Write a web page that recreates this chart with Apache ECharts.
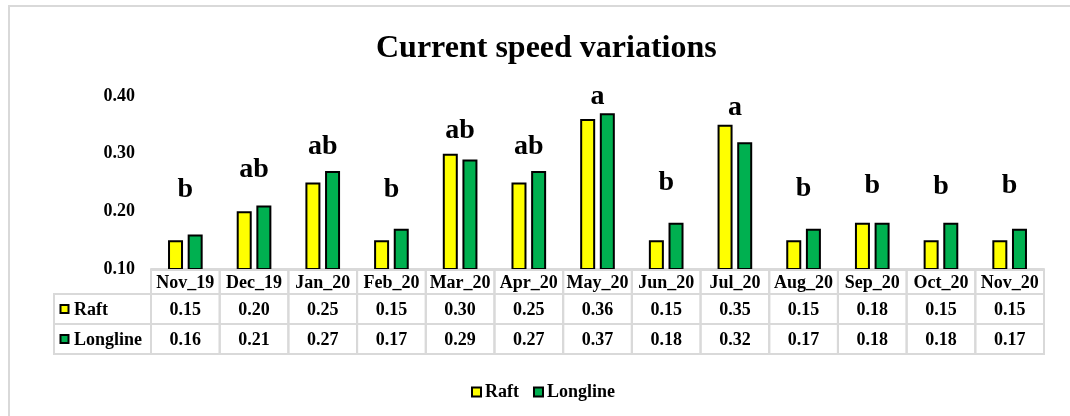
<!DOCTYPE html>
<html>
<head>
    <meta charset="utf-8">
    <title>Current speed variations</title>
    <script src="https://cdn.jsdelivr.net/npm/echarts@6/dist/echarts.min.js"></script>
    <style>
        html, body { margin: 0; padding: 0; background: #fff; }
        #chart { width: 1070px; height: 416px; }
    </style>
</head>
<body>
<div id="chart"></div>
<script type="text/javascript">
    // data
    var months = ['Nov_19', 'Dec_19', 'Jan_20', 'Feb_20', 'Mar_20', 'Apr_20', 'May_20',
        'Jun_20', 'Jul_20', 'Aug_20', 'Sep_20', 'Oct_20', 'Nov_20'];
    var raft = [0.15, 0.20, 0.25, 0.15, 0.30, 0.25, 0.36, 0.15, 0.35, 0.15, 0.18, 0.15, 0.15];
    var longline = [0.16, 0.21, 0.27, 0.17, 0.29, 0.27, 0.37, 0.18, 0.32, 0.17, 0.18, 0.18, 0.17];
    // significance letters and the height (in axis units) where they sit
    var letters = ['b', 'ab', 'ab', 'b', 'ab', 'ab', 'a', 'b', 'a', 'b', 'b', 'b', 'b'];
    var letterPos = [0.237, 0.272, 0.312, 0.237, 0.339, 0.312, 0.398, 0.249, 0.379, 0.240, 0.244, 0.242, 0.244];

    var serif = '"Times New Roman", "Liberation Serif", serif';
    var yellow = '#FFFF00';
    var green = '#00B050';
    var lineGray = '#d9d9d9';

    var chart = echarts.init(document.getElementById('chart'));

    chart.setOption({
        animation: false,
        title: {
            text: 'Current speed variations',
            left: 371,
            top: 28,
            textStyle: { fontFamily: serif, fontWeight: 'bold', fontSize: 32, color: '#000' }
        },
        legend: {
            data: ['Raft', 'Longline'],
            left: 466,
            top: 378,
            icon: 'rect',
            itemWidth: 9,
            itemHeight: 9,
            itemGap: 14,
            textStyle: { fontFamily: serif, fontWeight: 'bold', fontSize: 18, color: '#000', padding: [0, 0, 0, -1] }
        },
        grid: { left: 151, right: 26, top: 96, bottom: 147 },
        xAxis: {
            type: 'category',
            data: months,
            axisLine: { lineStyle: { color: lineGray, width: 2 } },
            axisTick: { show: false },
            axisLabel: { show: false }
        },
        yAxis: {
            type: 'value',
            min: 0.1,
            max: 0.4,
            interval: 0.1,
            axisLine: { show: false },
            axisTick: { show: false },
            splitLine: { show: false },
            axisLabel: {
                margin: 16,
                formatter: function (v) { return v.toFixed(2); },
                fontFamily: serif, fontWeight: 'bold', fontSize: 18, color: '#000'
            }
        },
        series: [
            {
                name: 'Raft',
                type: 'bar',
                data: raft,
                barWidth: 15,
                barGap: '31%',
                itemStyle: { color: yellow, borderColor: '#000', borderWidth: 2 }
            },
            {
                name: 'Longline',
                type: 'bar',
                data: longline,
                barWidth: 15,
                itemStyle: { color: green, borderColor: '#000', borderWidth: 2 }
            },
            {
                name: 'letters',
                type: 'scatter',
                data: letterPos,
                symbolSize: 1,
                itemStyle: { color: 'rgba(0,0,0,0)', opacity: 1 },
                z: 5,
                label: {
                    show: true,
                    position: 'inside',
                    opacity: 1,
                    formatter: function (p) { return letters[p.dataIndex]; },
                    fontFamily: serif, fontWeight: 'bold', fontSize: 28, color: '#000'
                }
            }
        ]
    });

    // data table under the plot, built from the axis positions
    function drawTable() {
        var els = [];
        var c0 = chart.convertToPixel({ xAxisIndex: 0 }, 0);
        var c1 = chart.convertToPixel({ xAxisIndex: 0 }, 1);
        var w = c1 - c0;
        var left = c0 - w / 2;
        var top = chart.convertToPixel({ yAxisIndex: 0 }, 0.1) + 1;
        var headH = 24, rowH = 30;
        var font = 'bold 18px ' + serif;
        var rows = [
            { name: 'Raft', color: yellow, values: raft },
            { name: 'Longline', color: green, values: longline }
        ];

        // outer frame of the chart area
        els.push({
            type: 'rect', silent: true, z: 0,
            shape: { x: 9, y: 6, width: 1100, height: 430 },
            style: { fill: 'none', stroke: lineGray, lineWidth: 2 }
        });

        months.forEach(function (m, i) {
            var cx = chart.convertToPixel({ xAxisIndex: 0 }, i);
            els.push({
                type: 'rect', silent: true, z: 10,
                shape: { x: cx - w / 2, y: top, width: w, height: headH },
                style: { fill: 'none', stroke: lineGray, lineWidth: 2 }
            });
            els.push({
                type: 'text', silent: true, z: 11,
                style: { text: m, x: cx, y: top + headH / 2 + 1, textAlign: 'center', textVerticalAlign: 'middle', verticalAlign: 'middle', font: font, fill: '#000' }
            });
            rows.forEach(function (r, k) {
                var y = top + headH + k * rowH;
                els.push({
                    type: 'rect', silent: true, z: 10,
                    shape: { x: cx - w / 2, y: y, width: w, height: rowH },
                    style: { fill: 'none', stroke: lineGray, lineWidth: 2 }
                });
                els.push({
                    type: 'text', silent: true, z: 11,
                    style: { text: r.values[i].toFixed(2), x: cx, y: y + rowH / 2 + 1, textAlign: 'center', textVerticalAlign: 'middle', verticalAlign: 'middle', font: font, fill: '#000' }
                });
            });
        });

        rows.forEach(function (r, k) {
            var y = top + headH + k * rowH;
            els.push({
                type: 'rect', silent: true, z: 10,
                shape: { x: 54, y: y, width: left - 54, height: rowH },
                style: { fill: 'none', stroke: lineGray, lineWidth: 2 }
            });
            els.push({
                type: 'rect', silent: true, z: 11,
                shape: { x: 60.5, y: y + rowH / 2 - 4, width: 8, height: 8 },
                style: { fill: r.color, stroke: '#000', lineWidth: 2 }
            });
            els.push({
                type: 'text', silent: true, z: 11,
                style: { text: r.name, x: 74, y: y + rowH / 2 + 1, textAlign: 'left', textVerticalAlign: 'middle', verticalAlign: 'middle', font: font, fill: '#000' }
            });
        });

        chart.setOption({ graphic: els });
    }

    drawTable();
</script>
</body>
</html>
